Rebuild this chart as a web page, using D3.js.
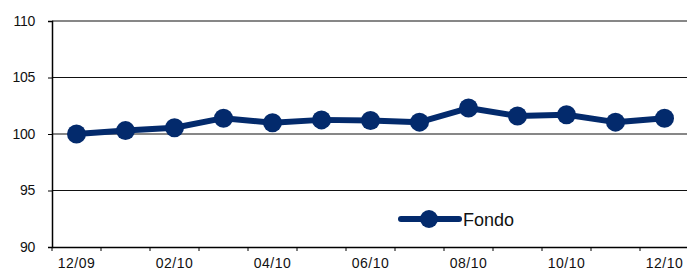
<!DOCTYPE html>
<html><head><meta charset="utf-8">
<script src="https://cdn.jsdelivr.net/npm/d3@7"></script>
<style>body{margin:0;background:#fff}svg{display:block}</style>
</head><body>
<svg id="c" width="687" height="272"></svg>
<script>
const months = ["12/09","01/10","02/10","03/10","04/10","05/10","06/10","07/10","08/10","09/10","10/10","11/10","12/10"];
const fondo = [100.0, 100.3, 100.55, 101.4, 101.0, 101.25, 101.2, 101.05, 102.3, 101.6, 101.7, 101.05, 101.4];
const yTicks = [90, 95, 100, 105, 110];
const tickLabels = ["12/09","02/10","04/10","06/10","08/10","10/10","12/10"];
const seriesName = "Fondo";

const color = "#032a6c";
const svg = d3.select("#c");
const L = 52, R = 689, T = 21, B = 247;
const x = d3.scaleBand().domain(months).range([L, R]).padding(0);
const y = d3.scaleLinear().domain([90, 110]).range([B, T]);

// gridlines
svg.append("g").selectAll("line").data(yTicks.filter(d => d > 90)).join("line")
  .attr("x1", L).attr("x2", 687).attr("y1", d => y(d)).attr("y2", d => y(d))
  .attr("stroke", "#111").attr("stroke-width", 1.2);

// y axis
const ya = svg.append("g").attr("transform", `translate(${L},0)`)
  .call(d3.axisLeft(y).tickValues(yTicks).tickSize(4).tickPadding(13));
ya.select(".domain").attr("stroke", "#000").attr("stroke-width", 1.5);
ya.selectAll(".tick line").attr("stroke", "#000");
ya.selectAll("text").attr("font-family", "Liberation Sans, Arial, sans-serif").attr("font-size", 14).attr("fill", "#111").attr("letter-spacing", "-0.3px");

// x axis
const xa = svg.append("g").attr("transform", `translate(0,${B})`)
  .call(d3.axisBottom(x).tickValues([]).tickSizeOuter(0));
xa.select(".domain").attr("stroke", "#000").attr("stroke-width", 1.5);
svg.append("g").selectAll("line").data(months).join("line")
  .attr("x1", d => x(d)).attr("x2", d => x(d)).attr("y1", B).attr("y2", B + 4)
  .attr("stroke", "#000");
svg.append("g").selectAll("text").data(tickLabels).join("text")
  .attr("x", d => x(d) + x.bandwidth() / 2).attr("y", 268)
  .attr("text-anchor", "middle")
  .attr("font-family", "Liberation Sans, Arial, sans-serif").attr("font-size", 14).attr("fill", "#111")
  .attr("letter-spacing", "0.5px")
  .text(d => d);

// line
const line = d3.line().x((d, i) => x(months[i]) + x.bandwidth() / 2).y(d => y(d));
svg.append("path").datum(fondo).attr("d", line).attr("fill", "none")
  .attr("stroke", color).attr("stroke-width", 6).attr("stroke-linejoin", "round");
svg.append("g").selectAll("circle").data(fondo).join("circle")
  .attr("cx", (d, i) => x(months[i]) + x.bandwidth() / 2).attr("cy", d => y(d))
  .attr("r", 9.5).attr("fill", color);

// legend
const lg = svg.append("g");
lg.append("line").attr("x1", 401).attr("x2", 459).attr("y1", 219).attr("y2", 219)
  .attr("stroke", color).attr("stroke-width", 6).attr("stroke-linecap", "round");
lg.append("circle").attr("cx", 429).attr("cy", 219).attr("r", 9).attr("fill", color);
lg.append("text").attr("x", 463).attr("y", 225.5).attr("font-family", "Liberation Sans, Arial, sans-serif")
  .attr("font-size", 18).attr("fill", "#111").text(seriesName);
</script>
</body></html>
